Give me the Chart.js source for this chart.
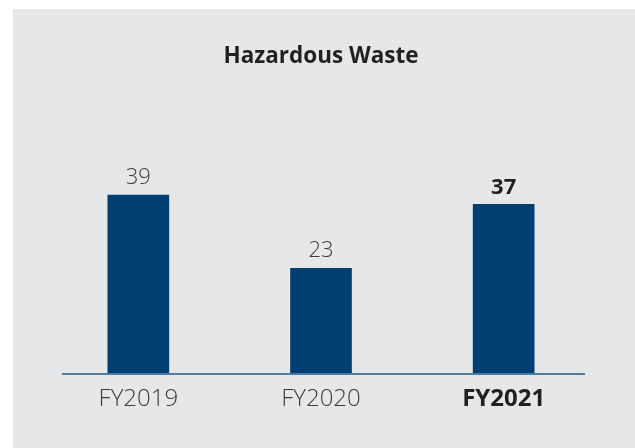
<!DOCTYPE html>
<html>
<head>
<meta charset="utf-8">
<script src="https://cdn.jsdelivr.net/npm/chart.js@4.4.0/dist/chart.umd.min.js"></script>
<style>
  html, body { margin: 0; padding: 0; background: #ffffff; width: 635px; height: 448px; overflow: hidden; }
  #panel { position: absolute; left: 13px; top: 9px; width: 622px; height: 439px; background: #e6e7e8; }
  canvas { display: block; }
</style>
</head>
<body>
<div id="panel"><canvas id="c" width="622" height="439"></canvas></div>
<script>
const titleText = "Hazardous Waste";
const categories = ["FY2019", "FY2020", "FY2021"];
const values = [39, 23, 37];
const highlightIndex = 2;
const yMax = 50;

const barColor = "#003f72";
const textColor = "#3c3c3c";
const boldColor = "#231f20";
const fontFamily = "'Open Sans', Lato, 'DejaVu Sans', sans-serif";

const valueLabels = {
  id: "valueLabels",
  afterDatasetsDraw(chart) {
    const ctx = chart.ctx;
    const meta = chart.getDatasetMeta(0);
    ctx.save();
    ctx.textAlign = "center";
    ctx.textBaseline = "bottom";
    meta.data.forEach((bar, i) => {
      const bold = i === highlightIndex;
      ctx.font = (bold ? "bold " : "300 ") + "22px " + fontFamily;
      ctx.fillStyle = bold ? boldColor : textColor;
      ctx.fillText(String(values[i]), bar.x, bar.y - 6);
    });
    ctx.restore();
  }
};

const baseline = {
  id: "baseline",
  afterDatasetsDraw(chart) {
    const ctx = chart.ctx;
    const y = chart.scales.y.getPixelForValue(0);
    const a = chart.chartArea;
    ctx.save();
    ctx.strokeStyle = "#1d5a8c";
    ctx.lineWidth = 1.5;
    ctx.beginPath();
    ctx.moveTo(a.left + 15, y + 0.75);
    ctx.lineTo(a.right - 10, y + 0.75);
    ctx.stroke();
    ctx.restore();
  }
};

new Chart(document.getElementById("c"), {
  type: "bar",
  data: {
    labels: categories,
    datasets: [{
      data: values,
      backgroundColor: barColor,
      borderWidth: 0,
      barThickness: 61
    }]
  },
  options: {
    responsive: false,
    animation: false,
    devicePixelRatio: 1,
    layout: { padding: { left: 34, right: 40, top: 0, bottom: 22 } },
    plugins: {
      legend: { display: false },
      tooltip: { enabled: false },
      title: {
        display: true,
        text: titleText,
        color: boldColor,
        font: { family: fontFamily, size: 22.5, weight: "bold", lineHeight: 1.2 },
        padding: { top: 34, bottom: 75 }
      }
    },
    scales: {
      x: {
        offset: true,
        grid: { display: false, drawTicks: false },
        border: { display: false },
        ticks: {
          padding: 12,
          color: (c) => c.index === highlightIndex ? boldColor : textColor,
          font: (c) => ({
            family: fontFamily,
            size: 24,
            weight: c.index === highlightIndex ? "bold" : "300",
            lineHeight: 1.2
          })
        }
      },
      y: {
        display: false,
        min: 0,
        max: yMax
      }
    }
  },
  plugins: [valueLabels, baseline]
});
</script>
</body>
</html>
